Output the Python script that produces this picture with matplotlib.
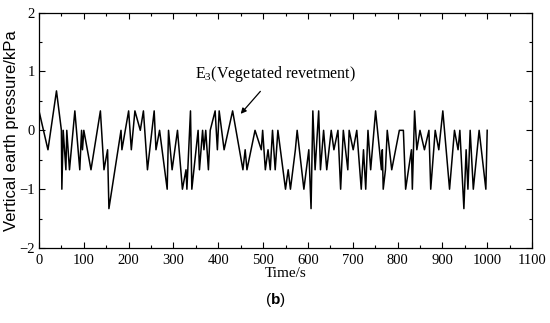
import matplotlib
matplotlib.use("Agg")
import matplotlib.pyplot as plt
from matplotlib.ticker import MultipleLocator

# === data (sensor is quantised to ~1/3 kPa) ===
time_s = [0, 20, 39, 50, 51, 54, 60, 62, 68, 80, 91, 95, 97, 100, 116, 137, 145, 153, 156,
          183, 185, 200, 206, 214, 226, 233, 242, 257, 261, 269, 286, 289, 297, 309, 320,
          328, 330, 338, 341, 355, 358, 365, 368, 372, 378, 382, 393, 398, 402, 413, 432,
          455, 460, 464, 482, 496, 499, 505, 511, 516, 521, 527, 533, 550, 556, 561, 572,
          576, 591, 602, 607, 611, 616, 624, 628, 635, 642, 652, 658, 667, 673, 679, 689,
          692, 701, 709, 719, 724, 729, 734, 740, 751, 764, 766, 768, 773, 777, 787, 804,
          813, 818, 831, 833, 838, 843, 850, 860, 870, 874, 884, 892, 901, 916, 927, 935,
          939, 948, 953, 957, 962, 969, 982, 997, 1000]
pressure = [0.33, -0.33, 0.67, 0, -1, 0, -0.67, 0, -0.67, 0.33, -0.67, 0, -0.33, 0, -0.67,
            0.33, -0.67, -0.33, -1.33,
            0, -0.33, 0.33, -0.33, 0.33, 0, 0.33, -0.67, 0.33, -0.33, 0, -1, 0, -0.67, 0, -1,
            -0.67, -1, 0.33, -1, 0, -0.67, 0, -0.33, 0, -0.67, 0, 0.33, -0.33, 0.33, -0.33, 0.33,
            -0.67, -0.33, -0.67, 0, -0.33, 0, -0.67, -0.33, -0.67, 0, -0.67, 0, -1, -0.67, -1, -0.33,
            0, -1, -0.33, -1.33, 0.33, -0.67, 0.33, -0.67, 0, -0.67, 0, -0.33, 0, -1, 0, -0.67,
            0, -0.33, 0, -1, -0.33, -1, 0, -0.67, 0.33, -0.67, -0.33, -1, -0.67, 0, -0.67, 0,
            0, -1, -0.33, -1, 0.33, -0.33, 0, -0.33, 0, -1, 0, -0.33, 0.33, -1, 0, -0.33,
            0, -1.33, -0.33, -1, 0, -1, 0, -1, 0]

label_text = r"E$_3$(Vegetated revetment)"

plt.rcParams["font.family"] = "Liberation Serif"
plt.rcParams["mathtext.fontset"] = "custom"
plt.rcParams["mathtext.rm"] = "Liberation Serif"
plt.rcParams["mathtext.bf"] = "Liberation Sans:bold"

fig = plt.figure(figsize=(5.5, 3.23), dpi=100)
ax = fig.add_axes([0.0709, 0.232, 0.8964, 0.729])

ax.plot(time_s, pressure, color="black", lw=1.1)

ax.set_xlim(0, 1100)
ax.set_ylim(-2, 2)
ax.xaxis.set_major_locator(MultipleLocator(100))
ax.xaxis.set_minor_locator(MultipleLocator(50))
ax.yaxis.set_major_locator(MultipleLocator(1))
ax.yaxis.set_minor_locator(MultipleLocator(0.5))
ax.tick_params(which="both", direction="in", top=True, right=True, labelsize=10.5)
ax.tick_params(axis="x", pad=4)
ax.tick_params(axis="y", pad=3)
ax.tick_params(which="major", length=4, width=0.8)
ax.tick_params(which="minor", length=2.5, width=0.8)
for sp in ax.spines.values():
    sp.set_linewidth(0.9)

ax.set_xlabel("Time/s", fontsize=11, labelpad=0)
ax.set_ylabel("Vertical earth pressure/kPa", fontsize=12, family="Liberation Sans", labelpad=0)

ax.annotate(label_text, xy=(450, 0.28), xytext=(527, 0.95),
            ha="center", va="center", fontsize=11.5,
            arrowprops=dict(arrowstyle="-|>", color="black", lw=0.9,
                            mutation_scale=8, shrinkA=4, shrinkB=0))

fig.text(0.5, 0.072, r"(" + r"$\mathbf{b}$" + ")", ha="center", va="center",
         fontsize=11, family="Liberation Sans")

fig.savefig("out.png", dpi=100)
